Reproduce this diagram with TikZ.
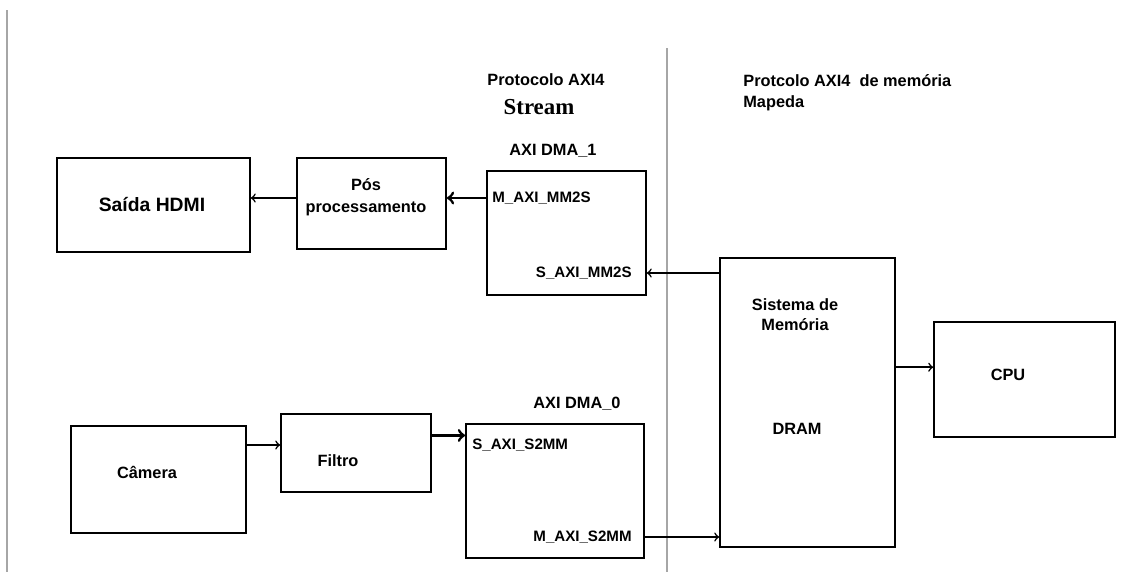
\documentclass[tikz,border=0pt]{standalone}
\usepackage{fontspec}
\setmainfont{Liberation Sans}
\newfontfamily\streamfont{Liberation Serif}
\usetikzlibrary{arrows}

\newlength\pxu
\setlength{\pxu}{0.02cm}

\tikzset{
bloco/.style n args={2}{draw, line width=1pt, inner sep=0pt, minimum width=#1\pxu, minimum height=#2\pxu},
txt/.style={font=\bfseries\fontsize{9.3}{11}\selectfont, inner sep=0pt},
porta/.style={font=\bfseries\fontsize{8.6}{10}\selectfont, inner sep=0pt},
conn/.style={->, line width=0.9pt},
grossa/.style={->, line width=1.6pt},
divisa/.style={draw=gray!70, line width=1pt}
}

\begin{document}
\begin{tikzpicture}[x=0.02cm, y=-0.02cm]

\useasboundingbox (0,0) rectangle (1130,572);

\draw[divisa] (7,10) -- (7,572);
\draw[divisa] (667,48) -- (667,572);

% blocos
\node[bloco={193}{94}] (hdmi) at (153.5,205) {};
\node[bloco={149}{91}] (pos) at (371.5,203.5) {};
\node[bloco={159}{124}] (dma1) at (566.5,233) {};
\node[bloco={175}{289}] (sis) at (807.5,402.5) {};
\node[bloco={181}{115}] (cpu) at (1024.5,379.5) {};
\node[bloco={175}{107}] (cam) at (158.5,479.5) {};
\node[bloco={150}{78}] (fil) at (356,453) {};
\node[bloco={178}{134}] (dma0) at (555,491) {};

% textos
\node[txt, font=\bfseries\fontsize{11}{13}\selectfont] (hdmitxt) at (152,205) {Saída HDMI};
\node[txt, align=center, font=\bfseries\fontsize{9.3}{12.5}\selectfont] (postxt) at (366,197) {Pós\\processamento};
\node[txt] (camtxt) at (147,472) {Câmera};
\node[txt] (filtxt) at (338,461) {Filtro};
\node[txt] (cputxt) at (1008,375) {CPU};
\node[txt, align=center, font=\bfseries\fontsize{9.3}{11.5}\selectfont] (sistxt) at (795,315) {Sistema de\\Memória};
\node[txt] (dramtxt) at (797,429) {DRAM};

\node[txt] (prot1) at (546,80) {Protocolo AXI4};
\node[inner sep=0pt, font=\streamfont\bfseries\fontsize{13}{15}\selectfont] (stream) at (539,107) {Stream};
\node[txt, anchor=west, align=left, font=\bfseries\fontsize{9.3}{12}\selectfont] (prot2) at (743,92.5) {Protcolo AXI4 \ de memória\\Mapeda};
\node[txt] (dma1txt) at (553,151) {AXI DMA\_1};
\node[txt] (dma0txt) at (577,404) {AXI DMA\_0};

\node[porta, anchor=west] (mm2s) at (492,198) {M\_AXI\_MM2S};
\node[porta, anchor=east] (smm2s) at (632,273) {S\_AXI\_MM2S};
\node[porta, anchor=west] (s2mm) at (472,445) {S\_AXI\_S2MM};
\node[porta, anchor=east] (ms2mm) at (632,537) {M\_AXI\_S2MM};

% ligacoes
\draw[conn] (pos.west |- mm2s) -- (hdmi.east |- mm2s);
\draw[grossa] (dma1.west |- mm2s) -- (pos.east |- mm2s);
\draw[conn] (sis.west |- smm2s) -- (dma1.east |- smm2s);
\draw[conn] (cam.east |- s2mm) -- (fil.west |- s2mm);
\draw[grossa] ([yshift=10pt]fil.east) -- ([yshift=10pt]fil.east -| dma0.west);
\draw[conn] (dma0.east |- ms2mm) -- (sis.west |- ms2mm);
\draw[conn] ([yshift=7pt]cpu.west -| sis.east) -- ([yshift=7pt]cpu.west);

\end{tikzpicture}
\end{document}
